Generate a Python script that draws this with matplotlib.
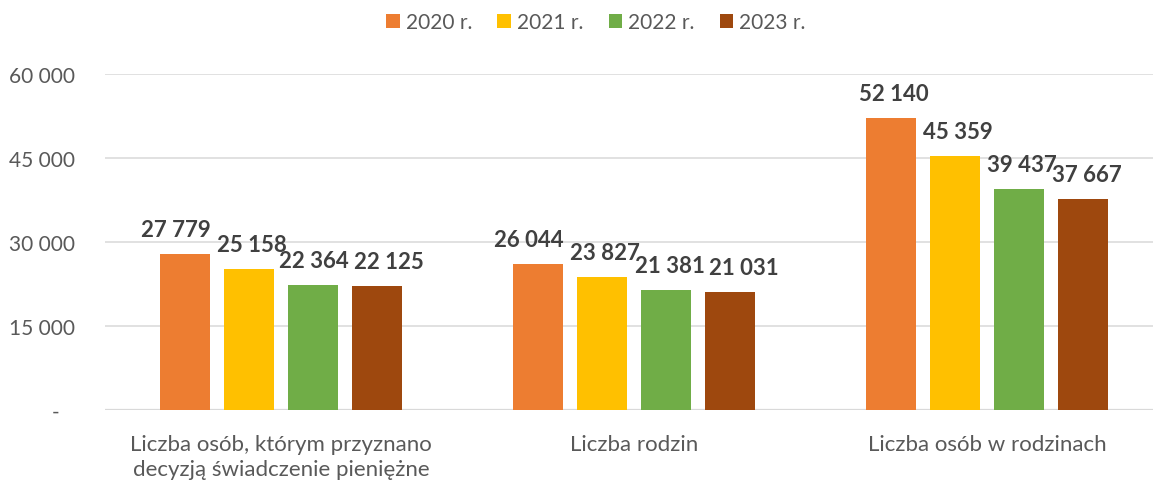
import numpy as np
import matplotlib
matplotlib.use("Agg")
import matplotlib.pyplot as plt
from matplotlib.patches import Patch

# ----- data -----
categories = ["Liczba osób, którym przyznano\ndecyzją świadczenie pieniężne",
              "Liczba rodzin",
              "Liczba osób w rodzinach"]
years = ["2020 r.", "2021 r.", "2022 r.", "2023 r."]
v2020 = [27779, 26044, 52140]
v2021 = [25158, 23827, 45359]
v2022 = [22364, 21381, 39437]
v2023 = [22125, 21031, 37667]
y_ticks = [0, 15000, 30000, 45000, 60000]
y_tick_labels = ["-   ", "15 000", "30 000", "45 000", "60 000"]

colors = ["#ED7D31", "#FFC000", "#70AD47", "#9E480E"]
series = [v2020, v2021, v2022, v2023]
# horizontal nudge (points) of value labels, per year, per category
label_shift = [[-7, -7, 2], [2, 2, 2], [1, 3, 2], [9, 10, 3]]

plt.rcParams["font.family"] = ["Lato", "DejaVu Sans"]

W, H = 1153, 481
fig = plt.figure(figsize=(W / 100, H / 100), dpi=100)
ax = fig.add_axes([104.5 / W, 70 / H, 1059 / W, 336 / H])

x = np.arange(len(categories))
step = 0.181
width = 0.1416
for k, (vals, col) in enumerate(zip(series, colors)):
    pos = x + (k - 1.5) * step
    ax.bar(pos, vals, width=width, color=col, zorder=3)
    for j, (px, v) in enumerate(zip(pos, vals)):
        label = f"{v:,}".replace(",", " ")
        ax.annotate(label, (px, v), xytext=(label_shift[k][j], 13),
                    textcoords="offset points", ha="center", va="baseline",
                    fontsize=16, fontweight="bold", color="#404040", zorder=4)

ax.set_xlim(-0.5, 2.5)
ax.set_ylim(0, 60000)
ax.set_yticks(y_ticks)
ax.set_yticklabels(y_tick_labels)
ax.grid(axis="y", color="#d9d9d9", linewidth=1.1, zorder=0)
ax.axhline(0, color="#d9d9d9", linewidth=1.6, zorder=2)
for s in ax.spines.values():
    s.set_visible(False)
ax.tick_params(axis="y", length=0, pad=21, labelsize=15, labelcolor="#595959")

ax.set_xticks(x)
ax.set_xticklabels(categories, linespacing=1.35)
ax.tick_params(axis="x", length=0, pad=17, labelsize=16, labelcolor="#595959")

handles = [Patch(facecolor=c, edgecolor="none") for c in colors]
fig.legend(handles, years, loc="center", bbox_to_anchor=(596 / W, 1 - 23 / H),
           ncol=4, frameon=False, fontsize=15, handlelength=0.65, handleheight=0.65,
           handletextpad=0.3, columnspacing=1.2, labelcolor="#595959")

fig.savefig("out.png", dpi=100)
